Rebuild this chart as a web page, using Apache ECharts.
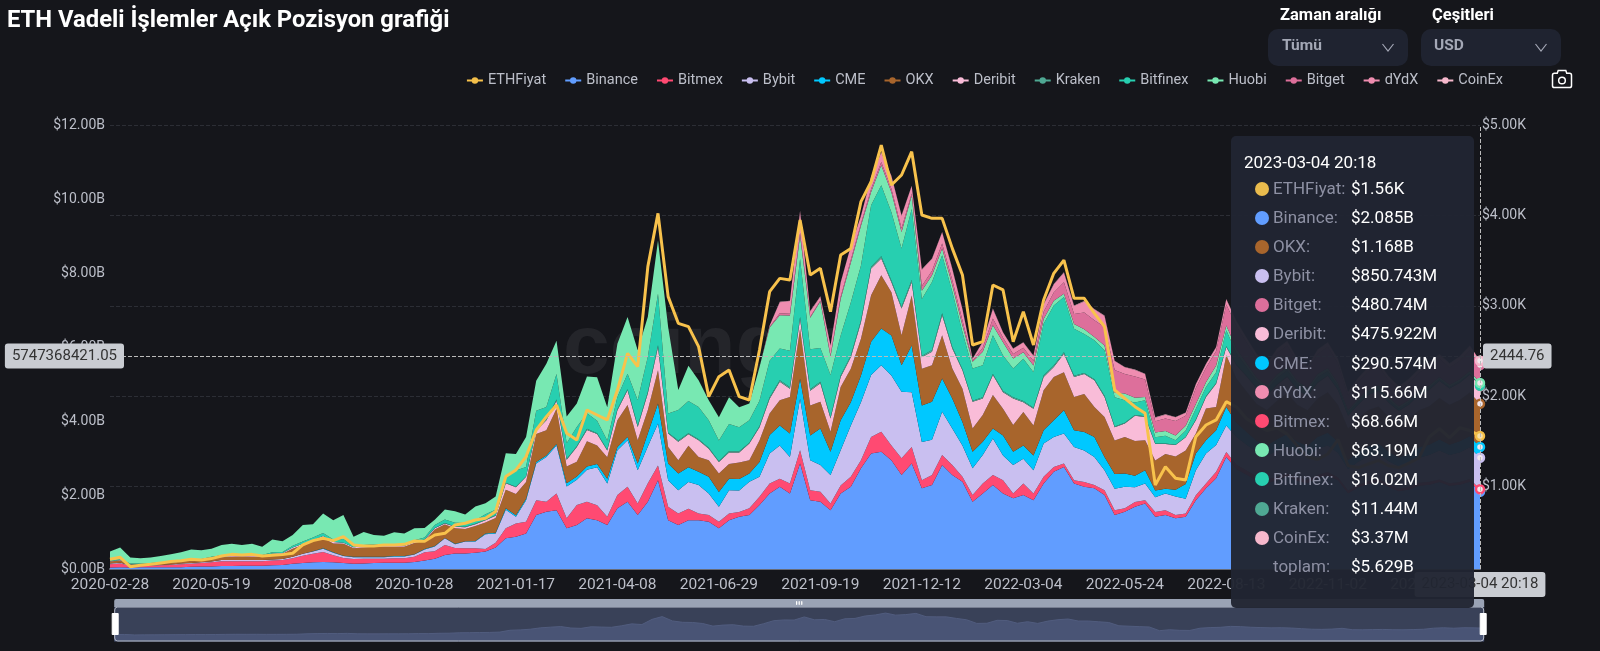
<!DOCTYPE html>
<html><head><meta charset="utf-8">
<style>html,body{margin:0;padding:0;background:#15161b;}#c{width:1600px;height:651px;}</style>
<script src="https://cdn.jsdelivr.net/npm/echarts@6/dist/echarts.min.js"></script>
</head><body><div id="c"></div>
<script>
const categories=["2020-02-28","2020-03-07","2020-03-15","2020-03-23","2020-03-31","2020-04-08","2020-04-16","2020-04-24","2020-05-02","2020-05-10",
"2020-05-19","2020-05-27","2020-06-04","2020-06-12","2020-06-20","2020-06-28","2020-07-06","2020-07-14","2020-07-22","2020-07-30",
"2020-08-08","2020-08-16","2020-08-24","2020-09-01","2020-09-09","2020-09-17","2020-09-25","2020-10-03","2020-10-11","2020-10-19",
"2020-10-28","2020-11-05","2020-11-13","2020-11-21","2020-11-29","2020-12-07","2020-12-15","2020-12-23","2020-12-31","2021-01-08",
"2021-01-17","2021-01-25","2021-02-02","2021-02-10","2021-02-18","2021-02-26","2021-03-06","2021-03-14","2021-03-22","2021-03-30",
"2021-04-08","2021-04-16","2021-04-24","2021-05-02","2021-05-10","2021-05-18","2021-05-26","2021-06-03","2021-06-11","2021-06-20",
"2021-06-29","2021-07-07","2021-07-15","2021-07-23","2021-07-31","2021-08-08","2021-08-16","2021-08-24","2021-09-01","2021-09-10",
"2021-09-19","2021-09-27","2021-10-05","2021-10-13","2021-10-21","2021-10-29","2021-11-06","2021-11-14","2021-11-23","2021-12-02",
"2021-12-12","2021-12-20","2021-12-28","2022-01-05","2022-01-13","2022-01-21","2022-01-29","2022-02-06","2022-02-14","2022-02-23",
"2022-03-04","2022-03-12","2022-03-20","2022-03-28","2022-04-05","2022-04-13","2022-04-21","2022-04-29","2022-05-07","2022-05-15",
"2022-05-24","2022-06-01","2022-06-09","2022-06-17","2022-06-25","2022-07-03","2022-07-11","2022-07-19","2022-07-27","2022-08-04",
"2022-08-13","2022-08-21","2022-08-29","2022-09-06","2022-09-14","2022-09-22","2022-09-30","2022-10-08","2022-10-16","2022-10-24",
"2022-11-02","2022-11-10","2022-11-18","2022-11-26","2022-12-04","2022-12-12","2022-12-20","2022-12-28","2023-01-05","2023-01-13",
"2023-01-22","2023-01-30","2023-02-07","2023-02-15","2023-02-23","2023-03-04 20:18"];

// ETH price in USD
const ethPrice=[195,217,114,129,140,155,170,180,195,188,
203,232,250,243,250,232,240,247,262,354,
402,428,402,446,354,343,343,354,354,361,
398,394,464,483,575,594,630,649,723,1110,
1184,1331,1626,1773,1902,1589,1515,1847,1792,1737,
2068,2474,2326,3433,4022,3101,2806,2769,2548,1995,
2216,2290,1995,1958,2511,3156,3303,3285,3949,3340,
3414,2935,3562,3635,4152,4372,4778,4336,4447,4705,
4004,3967,3967,3635,3340,2566,2603,3230,3175,2603,
2935,2566,3064,3359,3506,3082,3082,2916,2769,2068,
1976,1884,1810,1018,1220,1091,1073,1552,1681,1737,
1939,1880,1750,1680,1620,1650,1580,1450,1330,1300,
1360,1520,1230,1210,1250,1290,1230,1210,1260,1320,
1550,1640,1540,1650,1620,1560];

// open interest, in units of $10M
const binance=[4,5,4,5,5,5,5,5,6,7,
7,8,8,9,9,9,10,11,14,16,
18,19,18,16,14,15,16,17,17,17,
19,23,28,38,42,42,44,47,58,83,
87,96,146,155,159,110,119,137,132,119,
164,182,146,182,240,132,119,132,132,128,
110,132,141,146,173,204,222,204,285,186,
182,159,204,222,272,312,317,294,254,285,
218,227,281,254,236,182,204,227,204,191,
200,186,231,263,276,231,222,218,200,146,
155,168,177,141,146,137,141,186,218,245,
303,270,255,240,232,240,250,238,232,245,
252,240,205,220,230,235,222,210,215,225,
228,235,225,228,236,208.5];
const bitmex=[9,10,5,4,4,5,6,8,8,9,
11,13,13,12,12,12,13,13,15,20,
23,27,19,14,13,13,12,11,12,12,
14,22,20,27,15,14,12,7,13,27,
36,32,40,27,45,27,54,45,40,22,
36,40,31,50,40,36,31,31,18,18,
18,18,13,18,22,27,22,27,36,27,
27,18,22,27,22,45,54,40,45,45,
22,27,27,27,13,18,27,27,36,13,
31,18,18,13,9,9,13,9,13,13,
9,13,9,13,13,9,9,13,13,18,
13,12,11,10,10,9,9,10,9,10,
10,8,7,8,8,8,7,7,7,8,
8,7,7,7,7,6.866];
const bybit=[2,2,1,1,1,1,1,2,2,2,
2,3,3,3,3,3,3,3,4,5,
6,9,7,5,5,4,4,4,5,5,
6,8,13,18,10,18,18,40,25,50,
18,58,99,121,130,86,68,86,103,90,
121,126,90,99,113,72,63,72,77,58,
40,63,58,72,54,81,90,72,139,81,
72,77,95,139,157,167,180,189,180,148,
103,95,117,99,85,72,77,99,67,77,
67,63,90,81,81,90,85,76,54,58,
58,40,45,40,45,50,40,68,81,72,
72,75,70,66,64,70,72,66,64,70,
72,66,58,62,66,68,62,60,64,68,
72,78,76,80,86,85.0743];
const cme=[0,0,0,0,0,0,0,0,0,0,
0,0,0,0,0,0,0,0,0,0,
1,1,1,1,1,1,1,1,1,1,
1,1,1,1,1,1,2,2,2,4,
4,4,4,4,4,9,9,9,9,13,
9,9,18,36,54,45,45,40,36,45,
40,31,31,22,40,50,54,63,54,67,
99,63,81,63,72,90,99,108,72,126,
99,103,90,81,63,45,36,27,54,36,
36,40,36,45,63,45,50,54,36,40,
36,31,36,18,13,18,40,45,36,40,
50,38,34,30,28,32,34,30,28,32,
34,30,24,26,28,28,26,24,26,28,
28,30,28,30,30,29.0574];
const okx=[5,6,2,2,3,4,4,5,6,6,
9,8,9,10,9,9,14,14,22,24,
27,28,24,32,23,25,27,27,25,25,
30,22,45,36,42,33,40,30,40,50,
58,45,76,68,95,45,40,68,50,58,
72,86,63,63,90,45,36,58,40,45,
50,40,45,36,58,58,68,99,135,81,
72,54,90,90,99,126,144,117,81,135,
99,99,117,81,90,63,72,90,72,72,
90,81,108,117,103,90,103,81,108,90,
99,94,81,81,94,90,90,54,86,63,
140,120,110,100,96,104,110,100,96,104,
110,100,86,92,98,100,94,90,94,100,
104,112,108,112,118,116.8];
const deribit=[1,1,1,1,1,1,1,1,1,1,
2,2,2,2,2,2,2,2,3,3,
3,5,4,3,3,3,3,3,3,3,
3,3,3,3,4,5,5,6,6,18,
18,14,9,27,22,18,40,31,31,18,
27,40,36,45,63,36,50,31,45,31,
31,31,27,45,36,40,50,22,27,40,
50,36,27,31,45,72,45,27,72,36,
31,36,54,54,50,72,45,54,45,72,
27,45,36,27,50,54,54,72,54,36,
36,68,63,45,27,31,36,36,31,63,
22,36,40,42,38,42,44,40,38,42,
44,40,34,36,40,42,38,36,38,42,
44,46,44,46,48,47.5922];
const kraken=[0,0,0,0,0,0,0,0,0,0,
0,0,0,0,0,0,0,0,0,0,
0,0,0,0,0,0,0,0,0,0,
1,1,1,1,1,1,1,1,1,1,
1,1,2,2,3,2,2,3,2,2,
3,3,3,4,5,2,3,3,3,3,
2,3,3,2,3,4,4,4,5,4,
4,3,4,5,5,5,6,5,5,6,
4,5,5,4,3,3,3,3,3,3,
3,3,4,4,4,3,3,3,3,2,
2,2,2,1,1,1,1,2,2,2,
2,2,2,2,2,2,2,2,2,2,
1,1,1,1,1,1,1,1,1,1,
1,1,1,1,1,1.144];
const bitfinex=[2,2,2,2,2,2,2,2,2,2,
2,3,3,3,3,3,3,3,5,6,
7,8,7,10,4,4,4,4,4,4,
4,5,8,10,10,10,10,15,15,17,
44,26,52,34,69,43,52,42,34,25,
33,42,69,95,139,52,83,87,87,74,
56,74,65,61,69,99,86,99,157,108,
91,114,108,143,148,166,192,184,157,192,
154,184,157,149,100,87,87,105,96,78,
114,96,140,162,149,127,105,105,123,79,
61,34,43,17,21,12,17,29,25,29,
43,30,24,18,16,18,16,14,12,14,
12,10,8,9,8,8,7,6,6,5,
5,4,3,3,2,1.602];
const huobi=[24,32,16,14,15,17,21,22,28,24,
22,28,30,26,30,22,35,29,29,45,
36,53,52,65,24,35,25,23,32,29,
32,26,14,27,31,23,37,30,36,63,
45,81,81,117,90,72,63,99,117,90,
144,153,135,108,144,234,54,95,72,54,
63,72,54,45,90,90,90,95,63,85,
126,50,99,108,108,36,54,54,45,36,
22,18,18,18,18,18,36,27,36,27,
18,18,13,13,9,13,13,9,13,13,
18,13,9,13,13,13,13,13,13,18,
13,12,10,9,9,9,9,8,8,8,
8,7,6,6,6,7,7,6,6,6,
6,6,6,6,7,6.319];
const bitget=[0,0,0,0,0,0,0,0,0,0,
0,0,0,0,0,0,0,0,0,0,
0,0,0,0,0,0,0,0,0,0,
0,0,0,0,0,0,0,0,0,0,
0,0,0,0,0,0,0,0,0,0,
0,0,0,0,0,0,0,0,0,0,
0,0,0,0,0,1,5,5,8,3,
3,4,6,8,6,8,9,10,10,6,
13,12,14,14,14,3,11,18,12,12,
12,12,19,22,31,27,45,45,50,61,
53,57,47,30,34,39,27,43,39,39,
57,62,56,52,48,58,58,50,48,54,
58,54,40,46,50,50,46,44,46,48,
50,50,46,50,56,48.074];
const dydx=[0,0,0,0,0,0,0,0,0,0,
0,0,0,0,0,0,0,0,0,0,
0,0,0,0,0,0,0,0,0,0,
0,0,0,0,0,0,0,0,0,0,
0,0,0,0,0,0,0,0,0,0,
0,0,0,0,0,0,0,0,0,0,
0,0,0,0,0,4,30,34,58,14,
10,26,38,36,20,32,26,34,34,20,
44,32,30,30,30,5,15,26,14,14,
14,14,20,22,26,22,30,30,30,24,
18,18,15,10,10,10,8,10,10,10,
14,12,12,11,10,11,11,10,10,11,
11,11,9,10,10,10,10,9,10,10,
11,11,11,11,12,11.566];
const coinex=[0,0,0,0,0,0,0,0,0,0,
0,0,0,0,0,0,0,0,0,0,
0,0,0,0,0,0,0,0,0,0,
0,0,0,0,0,0,0,0,0,0,
0,0,0,0,0,0,0,0,0,0,
0,0,0,0,0,0,0,0,0,0,
0,0,0,0,0,0,1,1,1,1,
1,1,1,1,1,1,1,1,1,1,
1,1,1,1,1,1,1,1,1,1,
1,1,1,1,1,1,1,1,1,1,
1,1,1,1,1,1,1,1,1,1,
1,1,1,1,1,1,1,1,1,1,
1,1,1,1,1,1,1,1,1,1,
1,1,1,1,1,0.337];

const unit=1e7;
const names=["Binance","Bitmex","Bybit","CME","OKX","Deribit","Kraken","Bitfinex","Huobi","Bitget","dYdX","CoinEx"];
const stacks=[binance,bitmex,bybit,cme,okx,deribit,kraken,bitfinex,huobi,bitget,dydx,coinex];
const colors=["#619dff","#ff4a72","#c9bff0","#00c8ff","#a8652c","#f9bcd8","#4fa893","#27cfb0","#78e8b2","#dd6f9b","#ef8db0","#f6b8cc"];
const pointerLeft="5747368421.05", pointerRight="2444.76";
const labelColor="#bcbfc9", font="Roboto";

function trim(v){return String(parseFloat(v.toFixed(3)));}
function usd(v){return v>=1e9?"$"+trim(v/1e9)+"B":"$"+trim(v/1e6)+"M";}

const series=[{name:"ETHFiyat",type:"line",yAxisIndex:1,data:ethPrice,symbol:"circle",symbolSize:8,showSymbol:false,z:5,
  itemStyle:{color:"#f3bf4a"},lineStyle:{color:"#f8c24c",width:3},
  emphasis:{scale:false,lineStyle:{color:"#f8c24c",width:3},itemStyle:{color:"#f7e0a8",borderColor:"#f3bf4a",borderWidth:2.5}}}];
names.forEach((n,k)=>series.push({name:n,type:"line",stack:"oi",data:stacks[k].map(v=>v*unit),symbol:"circle",symbolSize:8,showSymbol:false,z:2,
  itemStyle:{color:colors[k]},lineStyle:{width:0},areaStyle:{color:colors[k],opacity:1},
  emphasis:{scale:false,lineStyle:{width:0},areaStyle:{color:colors[k],opacity:1},itemStyle:{color:"#f2e6ec",borderColor:colors[k],borderWidth:2.5}}}));

const dot=c=>`<span style="position:absolute;left:24px;top:7.5px;width:14px;height:14px;border-radius:50%;background:${c}"></span>`;
const row=(c,l,v)=>`<div style="position:relative;height:29.1px;line-height:29.1px">${c?dot(c):""}<span style="position:absolute;left:42px;color:#8d90a3">${l}</span><span style="position:absolute;left:120px;color:#fff">${v}</span></div>`;
function tip(params){
  const eth=params.find(p=>p.seriesName==="ETHFiyat");
  const oi=params.filter(p=>p.seriesName!=="ETHFiyat").sort((a,b)=>b.value-a.value);
  const total=oi.reduce((s,p)=>s+p.value,0);
  let h=`<div style="position:absolute;left:13px;top:13px;height:26px;line-height:26px;color:#fff">${eth.name}</div><div style="position:absolute;left:0;right:0;top:38px">`;
  h+=row("#e9bb4d","ETHFiyat:","$"+(eth.value/1e3).toFixed(2)+"K");
  oi.forEach(p=>h+=row(p.color,p.seriesName+":",usd(p.value)));
  h+=row(null,"toplam:",usd(total))+"</div>";
  return h;
}

const chart=echarts.init(document.getElementById("c"),null,{renderer:"canvas",width:1600,height:651});
const box=(x,w)=>({type:"rect",silent:true,shape:{x,y:29,width:w,height:37,r:10},style:{fill:"#1f2330"}});
const txt=(x,y,t,f,c,w)=>({type:"text",silent:true,x,y,style:{text:t,fill:c,font:`${w} ${f}px ${font}`,textVerticalAlign:"middle"}});
const chev=x=>({type:"polyline",silent:true,shape:{points:[[x-5.5,44],[x,51],[x+5.5,44]]},style:{stroke:"#a4a8b6",lineWidth:1.2,fill:null}});
chart.setOption({
  backgroundColor:"#15161b",animation:false,
  textStyle:{fontFamily:font},
  title:{text:"ETH Vadeli İşlemler Açık Pozisyon grafiği",left:7,top:9,padding:0,textStyle:{color:"#fff",fontSize:23.8,fontWeight:"bold",fontFamily:font}},
  legend:{data:["ETHFiyat",...names],right:92,top:68,itemWidth:16,itemHeight:8,itemGap:18,
    textStyle:{color:labelColor,fontSize:14.5,fontFamily:font},lineStyle:{width:2}},
  toolbox:{right:11,top:53,itemSize:19,feature:{saveAsImage:{title:"",icon:"path://M4 6 L7 6 L8 3 L16 3 L17 6 L20 6 Q22 6 22 8 L22 19 Q22 21 20 21 L4 21 Q2 21 2 19 L2 8 Q2 6 4 6 Z M12 10 A3.5 3.5 0 1 0 12 17 A3.5 3.5 0 1 0 12 10 Z"}},iconStyle:{color:"none",borderColor:"#fff",borderWidth:1.5}},
  grid:{left:110,right:120,top:125,height:444},
  tooltip:{trigger:"axis",alwaysShowContent:true,confine:false,position:[1231,136],padding:0,borderWidth:0,
    backgroundColor:"rgba(33,37,50,0.965)",formatter:tip,transitionDuration:0,
    textStyle:{fontFamily:font,fontSize:17,color:"#fff"},
    extraCssText:"width:243px;height:472px;border-radius:5px;box-shadow:none;overflow:hidden;",
    axisPointer:{type:"cross",crossStyle:{color:"#bbb",type:"dashed",width:1},lineStyle:{color:"#bbb",type:"dashed"},
      label:{backgroundColor:"#c9ccd2",color:"#333",fontSize:15,padding:[5,7,5,7],borderRadius:3,fontFamily:font}}},
  xAxis:{type:"category",boundaryGap:false,data:categories,
    axisLine:{lineStyle:{color:"#666b78",width:2}},axisTick:{show:false},splitLine:{show:false},
    axisLabel:{color:labelColor,fontSize:15.5,margin:8,interval:i=>i%10===0,formatter:v=>v.slice(0,10)}},
  yAxis:[
    {type:"value",min:0,max:12e9,interval:2e9,axisLine:{show:false},axisTick:{show:false},splitLine:{show:false},
     axisLabel:{color:labelColor,fontSize:14,margin:5,formatter:v=>"$"+(v/1e9).toFixed(2)+"B"},
     axisPointer:{label:{margin:-14,formatter:()=>pointerLeft}}},
    {type:"value",min:88,max:5000,splitNumber:5,position:"right",axisLine:{show:false},axisTick:{show:false},
     splitLine:{show:true,lineStyle:{color:"#2c2e35",type:"dashed"}},
     axisLabel:{color:labelColor,fontSize:14,margin:2,showMinLabel:false,formatter:v=>"$"+(v/1e3).toFixed(2)+"K"},
     axisPointer:{label:{formatter:()=>pointerRight}}}
  ],
  dataZoom:[{type:"slider",xAxisIndex:0,start:0,end:100,left:111,width:1370,top:599,height:35,showDetail:false,
    moveHandleSize:8,moveHandleStyle:{color:"#9aa3b5",opacity:1},emphasis:{moveHandleStyle:{color:"#9aa3b5",opacity:1}},
    backgroundColor:"#343b50",fillerColor:"rgba(70,80,110,0.3)",borderColor:"#b6bcc9",borderRadius:3,
    handleIcon:"path://M0,0 H6 V21 H0 Z",handleSize:"60%",handleStyle:{color:"#fff",borderColor:"#fff"},
    dataBackground:{lineStyle:{color:"#566285",width:1},areaStyle:{color:"#4b5679",opacity:1}},
    selectedDataBackground:{lineStyle:{color:"#566285",width:1},areaStyle:{color:"#4b5679",opacity:1}}}],
  graphic:[
    box(1268,140),box(1421,140),
    txt(1280,16,"Zaman aralığı",16.5,"#fff","bold"),txt(1432,16,"Çeşitleri",16.5,"#fff","bold"),
    txt(1282,46,"Tümü",15.5,"#a4a8b6","bold"),txt(1434,46,"USD",15.5,"#a4a8b6","bold"),
    chev(1388),chev(1541),
    {type:"text",silent:true,z:1,x:563,y:350,style:{text:"coinglass",fill:"rgba(150,150,160,0.12)",font:"bold 84px 'Liberation Sans'",textVerticalAlign:"middle"}}
  ],
  series
});
chart.dispatchAction({type:"showTip",x:1479,y:356});
</script></body></html>
